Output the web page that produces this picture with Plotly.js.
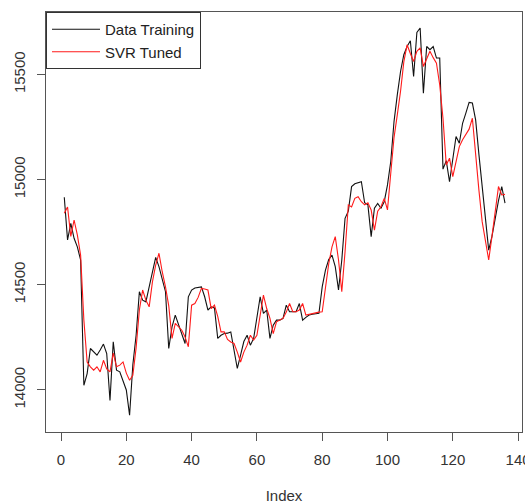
<!DOCTYPE html>
<html>
<head>
<meta charset="utf-8">
<script src="https://cdn.plot.ly/plotly-3.0.1.min.js"></script>
<style>html,body{margin:0;padding:0;background:#fff;}#chart{width:525px;height:504px;}</style>
</head>
<body>
<div id="chart"></div>
<script>
// Data Training (actual values), index 1..136
const dataTraining = [
  14916, 14713, 14792, 14721, 14680, 14618, 14022, 14078, 14197, 14180,
  14165, 14190, 14218, 14173, 13950, 14229, 14094, 14086, 14046, 14000,
  13880, 14120, 14260, 14467, 14427, 14419, 14490, 14560, 14630, 14586,
  14520, 14467, 14197, 14300, 14356, 14310, 14260, 14221, 14443, 14475,
  14485, 14488, 14490, 14443, 14380, 14395, 14390, 14245, 14260, 14268,
  14270, 14276, 14190, 14102, 14165, 14230, 14260, 14213, 14245, 14340,
  14443, 14364, 14380, 14245, 14308, 14332, 14332, 14340, 14403, 14372,
  14372, 14372, 14411, 14332, 14345, 14356, 14360, 14362, 14364, 14490,
  14570, 14620, 14641, 14586, 14475, 14618, 14816, 14850, 14967, 14980,
  14985, 14990, 14890, 14880, 14729, 14864, 14887, 14864, 14895, 14975,
  15086, 15276, 15403, 15514, 15594, 15633, 15660, 15490, 15700, 15721,
  15411, 15633, 15618, 15633, 15578, 15578, 15050, 15090, 14990, 15110,
  15205, 15173, 15268, 15316, 15367, 15364, 15284, 15120, 14960, 14800,
  14665, 14730, 14820, 14900, 14967, 14888
];
// SVR Tuned (fitted values)
const svrTuned = [
  14840, 14870, 14730, 14808, 14737, 14641, 14332, 14133, 14110, 14094,
  14110, 14086, 14141, 14100, 14086, 14175, 14110, 14118, 14133, 14080,
  14046, 14070, 14200, 14380, 14475, 14427, 14395, 14514, 14594, 14650,
  14562, 14490, 14400, 14245, 14316, 14300, 14284, 14252, 14205, 14403,
  14411, 14440, 14483, 14480, 14475, 14387, 14403, 14350, 14276, 14276,
  14240, 14228, 14221, 14180, 14133, 14180, 14213, 14260, 14237, 14260,
  14348, 14451, 14387, 14340, 14268, 14324, 14332, 14340, 14370, 14411,
  14372, 14372, 14380, 14411, 14356, 14360, 14364, 14366, 14370, 14372,
  14490, 14600, 14680, 14729, 14618, 14467, 14657, 14880, 14870, 14911,
  14919, 14895, 14880, 14890, 14856, 14760, 14850, 14871, 14911, 14856,
  15030, 15200, 15308, 15420, 15560, 15641, 15600, 15562, 15610, 15626,
  15538, 15570, 15610, 15580, 15554, 15450, 15292, 15070, 15102, 15014,
  15080, 15157, 15190, 15213, 15240, 15292, 15100, 14950, 14800, 14700,
  14618, 14730, 14850, 14967, 14927, 14930
];
const xTicks = [0, 20, 40, 60, 80, 100, 120, 140];
const yTicks = [14000, 14500, 15000, 15500];
const seriesNames = ["Data Training", "SVR Tuned"];

const idx = dataTraining.map((_, i) => i + 1);
const font = "Liberation Sans, Arial, sans-serif";

const traces = [
  {x: idx, y: dataTraining, type: "scatter", mode: "lines", name: seriesNames[0],
   line: {color: "#111111", width: 1.1}},
  {x: idx, y: svrTuned, type: "scatter", mode: "lines", name: seriesNames[1],
   line: {color: "#ff1a1a", width: 1.1}}
];

const layout = {
  width: 525, height: 504,
  margin: {l: 46, r: 3, t: 12, b: 72, pad: 0},
  paper_bgcolor: "#ffffff", plot_bgcolor: "#ffffff",
  font: {family: font, size: 15, color: "#333333"},
  showlegend: true,
  legend: {x: 0, y: 1, xanchor: "left", yanchor: "top",
           bordercolor: "#333333", borderwidth: 1, bgcolor: "#ffffff",
           font: {family: font, size: 15, color: "#222222"}, itemwidth: 48,
           tracegroupgap: 0},
  xaxis: {range: [-4.6, 141.2], tickmode: "array", tickvals: xTicks,
          ticktext: xTicks.map(String), ticks: "outside", ticklen: 8, tickwidth: 1,
          tickcolor: "#555555", showline: true, linecolor: "#555555", linewidth: 1,
          mirror: true, showgrid: false, zeroline: false, ticklabelstandoff: 6,
          ticklabeloverflow: "allow",
          title: {text: "Index", font: {family: font, size: 15, color: "#333333"}, standoff: 32},
          tickfont: {family: font, size: 15, color: "#333333"}},
  yaxis: {range: [13800, 15797], tickmode: "array", tickvals: yTicks,
          ticktext: yTicks.map(String), ticks: "outside", ticklen: 8, tickwidth: 1,
          tickcolor: "#555555", showline: true, linecolor: "#555555", linewidth: 1,
          mirror: true, showgrid: false, zeroline: false, tickangle: -90, ticklabelstandoff: 6,
          ticklabeloverflow: "allow",
          tickfont: {family: font, size: 15, color: "#333333"}}
};

Plotly.newPlot("chart", traces, layout, {displayModeBar: false, staticPlot: true});
</script>
</body>
</html>
